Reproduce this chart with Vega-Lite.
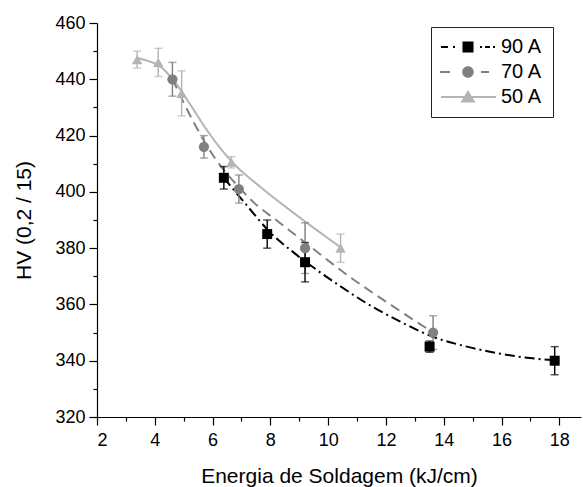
{
  "$schema": "https://vega.github.io/schema/vega-lite/v6.json",
  "autosize": "none",
  "width": 484,
  "height": 394,
  "padding": {"left": 97, "top": 23, "right": 2, "bottom": 70},
  "background": "white",
  "datasets": {
    "pts": [
      {"s": "50 A", "x": 3.39, "y": 447, "e": 3},
      {"s": "50 A", "x": 4.12, "y": 446, "e": 5},
      {"s": "50 A", "x": 4.93, "y": 435, "e": 8},
      {"s": "50 A", "x": 6.65, "y": 410.5, "e": 2},
      {"s": "50 A", "x": 10.43, "y": 380, "e": 5},
      {"s": "70 A", "x": 4.61, "y": 440, "e": 6},
      {"s": "70 A", "x": 5.7, "y": 416, "e": 4},
      {"s": "70 A", "x": 6.91, "y": 401, "e": 5},
      {"s": "70 A", "x": 9.2, "y": 380, "e": 9},
      {"s": "70 A", "x": 13.63, "y": 350, "e": 6},
      {"s": "90 A", "x": 6.39, "y": 405, "e": 4},
      {"s": "90 A", "x": 7.89, "y": 385, "e": 5},
      {"s": "90 A", "x": 9.2, "y": 375, "e": 7},
      {"s": "90 A", "x": 13.51, "y": 345, "e": 2},
      {"s": "90 A", "x": 17.84, "y": 340, "e": 5}
    ],
    "fit": [
      {"s": "50 A", "x": 3.39, "y": 447.5},
      {"s": "50 A", "x": 3.8, "y": 446.4},
      {"s": "50 A", "x": 4.12, "y": 445},
      {"s": "50 A", "x": 4.6, "y": 440.3},
      {"s": "50 A", "x": 5.18, "y": 431.8},
      {"s": "50 A", "x": 5.76, "y": 422.6},
      {"s": "50 A", "x": 6.57, "y": 411.8},
      {"s": "50 A", "x": 7.72, "y": 401.2},
      {"s": "50 A", "x": 8.64, "y": 393.8},
      {"s": "50 A", "x": 9.5, "y": 387.2},
      {"s": "50 A", "x": 10.43, "y": 380.3},
      {"s": "70 A", "x": 4.61, "y": 440},
      {"s": "70 A", "x": 5.01, "y": 431.5},
      {"s": "70 A", "x": 5.41, "y": 423.5},
      {"s": "70 A", "x": 6.1, "y": 411.7},
      {"s": "70 A", "x": 6.9, "y": 401.8},
      {"s": "70 A", "x": 7.45, "y": 396},
      {"s": "70 A", "x": 8.2, "y": 390},
      {"s": "70 A", "x": 9.45, "y": 380},
      {"s": "70 A", "x": 10.72, "y": 370},
      {"s": "70 A", "x": 12.22, "y": 359.5},
      {"s": "70 A", "x": 13.63, "y": 350},
      {"s": "90 A", "x": 6.39, "y": 405},
      {"s": "90 A", "x": 7.2, "y": 395},
      {"s": "90 A", "x": 8.0, "y": 385.5},
      {"s": "90 A", "x": 8.8, "y": 378.5},
      {"s": "90 A", "x": 9.6, "y": 372.3},
      {"s": "90 A", "x": 10.4, "y": 366.6},
      {"s": "90 A", "x": 11.3, "y": 360.6},
      {"s": "90 A", "x": 12.4, "y": 354.4},
      {"s": "90 A", "x": 13.6, "y": 348.6},
      {"s": "90 A", "x": 14.8, "y": 345},
      {"s": "90 A", "x": 15.9, "y": 342.6},
      {"s": "90 A", "x": 17.2, "y": 340.7},
      {"s": "90 A", "x": 17.84, "y": 340.2}
    ]
  },
  "layer": [
    {
      "data": {"name": "fit"},
      "mark": {"type": "line", "strokeWidth": 2, "interpolate": "monotone"},
      "encoding": {
        "x": {"field": "x", "type": "quantitative", "scale": {"domain": [2, 18.75], "nice": false, "zero": false},
          "axis": {"orient": "bottom", "values": [2, 4, 6, 8, 10, 12, 14, 16, 18], "tickSize": 8, "labelPadding": 6, "title": "Energia de Soldagem (kJ/cm)", "titlePadding": 16}},
        "y": {"field": "y", "type": "quantitative", "scale": {"domain": [320, 460], "nice": false, "zero": false},
          "axis": {"orient": "left", "values": [320, 340, 360, 380, 400, 420, 440, 460], "tickSize": 8, "labelPadding": 4, "title": "HV (0,2 / 15)", "titlePadding": 20}},
        "color": {"field": "s", "type": "nominal", "legend": null,
          "scale": {"domain": ["90 A", "70 A", "50 A"], "range": ["#000000", "#808080", "#b4b4b4"]}},
        "strokeDash": {"field": "s", "type": "nominal", "legend": null,
          "scale": {"domain": ["90 A", "70 A", "50 A"], "range": [[10, 4, 2, 4], [10, 6], [1, 0]]}},
        "order": {"field": "x", "type": "quantitative"}
      }
    },
    {
      "data": {"name": "pts"},
      "mark": {"type": "errorbar", "ticks": {"size": 8}, "thickness": 1.4},
      "encoding": {
        "x": {"field": "x", "type": "quantitative",
          "axis": {"orient": "bottom", "values": [3, 5, 7, 9, 11, 13, 15, 17], "tickSize": 4, "labels": false, "domain": false, "title": null}},
        "y": {"field": "y", "type": "quantitative",
          "axis": {"orient": "left", "values": [330, 350, 370, 390, 410, 430, 450], "tickSize": 4, "labels": false, "domain": false, "title": null}},
        "yError": {"field": "e"},
        "color": {"field": "s", "type": "nominal", "legend": null}
      }
    },
    {
      "data": {"name": "pts"},
      "mark": {"type": "point", "filled": true, "opacity": 1},
      "encoding": {
        "x": {"field": "x", "type": "quantitative", "axis": null},
        "y": {"field": "y", "type": "quantitative", "axis": null},
        "color": {"field": "s", "type": "nominal", "legend": null},
        "shape": {"field": "s", "type": "nominal", "legend": null,
          "scale": {"domain": ["90 A", "70 A", "50 A"], "range": ["square", "circle", "triangle-up"]}},
        "size": {"field": "s", "type": "ordinal", "legend": null,
          "scale": {"domain": ["90 A", "70 A", "50 A"], "range": [100, 110, 170]}}
      }
    },
    {
      "data": {"name": "pts"},
      "transform": [{"filter": "datum.x < 0"}],
      "mark": {"type": "point", "filled": true, "opacity": 1, "size": 100, "strokeWidth": 0},
      "encoding": {
        "x": {"field": "x", "type": "quantitative", "axis": null},
        "y": {"field": "y", "type": "quantitative", "axis": null},
        "color": {"field": "s", "type": "nominal",
          "legend": {
            "orient": "none", "legendX": 334, "legendY": 4, "title": null,
            "padding": 10, "strokeColor": "#222222", "fillColor": "white",
            "labelFontSize": 20, "labelOffset": 23, "symbolOffset": 17, "rowPadding": 5,
            "symbolSize": 100, "symbolStrokeWidth": 0}},
        "shape": {"field": "s", "type": "nominal",
          "scale": {"domain": ["90 A", "70 A", "50 A"],
            "range": [
              "M-5.4,-0.2H-4V0.2H-5.4Z M-3,-0.2H-2.6V0.2H-3Z M-1.1,-1.1H1.1V1.1H-1.1Z M2.4,-0.2H2.8V0.2H2.4Z M3.4,-0.2H4.4V0.2H3.4Z M5,-0.2H5.4V0.2H5Z",
              "M-5.6,-0.2H-3.6V0.2H-5.6Z M-1.15,0A1.15,1.15 0 1,1 1.15,0A1.15,1.15 0 1,1 -1.15,0Z M2.6,-0.2H4.2V0.2H2.6Z",
              "M-5.4,-0.2H5.6V0.2H-5.4Z M-1.5,1.1L0,-1.4L1.5,1.1Z"
            ]}}
      }
    }
  ],
  "resolve": {
    "scale": {"shape": "independent", "size": "independent"},
    "axis": {"x": "independent", "y": "independent"},
    "legend": {"color": "independent", "strokeDash": "independent", "shape": "independent", "size": "independent"}
  },
  "config": {
    "view": {"stroke": null},
    "axis": {
      "grid": false,
      "domainColor": "#000000", "tickColor": "#000000", "labelColor": "#000000", "titleColor": "#000000",
      "domainWidth": 1.2, "tickWidth": 1.2,
      "labelFont": "Liberation Sans", "titleFont": "Liberation Sans",
      "labelFontSize": 18, "titleFontSize": 21, "titleFontWeight": "normal"
    },
    "legend": {"labelFont": "Liberation Sans", "labelColor": "#000000"}
  }
}
